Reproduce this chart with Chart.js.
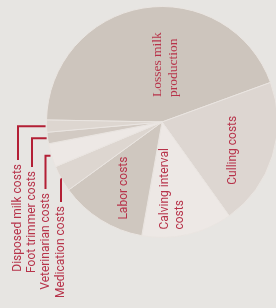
<!DOCTYPE html>
<html>
<head>
<meta charset="utf-8">
<script src="https://cdn.jsdelivr.net/npm/chart.js@4/dist/chart.umd.min.js"></script>
<style>
  html, body { margin: 0; padding: 0; width: 276px; height: 308px; overflow: hidden; background: #e7e5e2; }
  #wrap { position: absolute; left: 0; top: 0; width: 300px; height: 308px; }
</style>
</head>
<body>
<div id="wrap"><canvas id="c" width="300" height="308"></canvas></div>
<script>
// ---- data ----
const categories = [
  'Losses milk production',
  'Culling costs',
  'Calving interval costs',
  'Labor costs',
  'Medication costs',
  'Veterinarian costs',
  'Foot trimmer costs',
  'Disposed milk costs'
];
const values = [44.2, 20.7, 12.7, 12.2, 3.7, 3.3, 1.6, 1.7];
// lines of each label (in-slice labels may wrap)
const labelLines = [
  ['Losses milk', 'production'],
  ['Culling costs'],
  ['Calving interval', 'costs'],
  ['Labor costs'],
  ['Medication costs'],
  ['Veterinarian costs'],
  ['Foot trimmer costs'],
  ['Disposed milk costs']
];

// ---- style / layout ----
const sliceColors = ['#cdc5bd', '#ddd6d1', '#ede8e5', '#cfc7bf', '#ddd6d0', '#ede8e5', '#d2cac3', '#ddd6d0'];
const textColor = '#b7334a';
const leaderColor = '#b31f35';
// inside labels: anchor (bottom of rotated text) as fractions of radius from centre
const insideAnchor = { 0: [-0.043, -0.216, 16, 'serif'], 1: [0.612, 0.543, 15, 'sans'], 2: [0.026, 0.931, 15, 'sans'], 3: [-0.328, 0.845, 15, 'sans'] };
// outside labels: column x of label, y of text top
const outsideLabel = { 7: [18, 164], 6: [32, 171], 5: [45.5, 193], 4: [61, 206] };

const labelPlugin = {
  id: 'labels',
  afterDraw(chart) {
    const ctx = chart.ctx;
    const meta = chart.getDatasetMeta(0);
    ctx.save();
    ctx.fillStyle = textColor;
    meta.data.forEach((arc, i) => {
      const p = arc.getProps(['x', 'y', 'startAngle', 'endAngle', 'outerRadius'], true);
      const R = p.outerRadius;
      if (insideAnchor[i]) {
        const [fx, fy, lh, fam] = insideAnchor[i];
        ctx.font = fam === 'serif' ? '13.5px "Liberation Serif", serif' : '12px Roboto, sans-serif';
        ctx.save();
        ctx.translate(p.x + fx * R, p.y + fy * R);
        ctx.rotate(-Math.PI / 2);
        ctx.textAlign = 'left';
        ctx.textBaseline = 'middle';
        labelLines[i].forEach((ln, k) => ctx.fillText(ln, 0, k * lh));
        ctx.restore();
      } else if (outsideLabel[i]) {
        const [lx, topY] = outsideLabel[i];
        const mid = (p.startAngle + p.endAngle) / 2;
        const ex = p.x + Math.cos(mid) * (R + 1);
        const ey = p.y + Math.sin(mid) * (R + 1);
        ctx.strokeStyle = leaderColor;
        ctx.lineWidth = 2;
        ctx.beginPath();
        ctx.moveTo(ex, ey);
        ctx.lineTo(lx, ey);
        ctx.lineTo(lx, topY - 4);
        ctx.stroke();
        ctx.font = '12px Roboto, sans-serif';
        ctx.save();
        ctx.translate(lx, topY);
        ctx.rotate(-Math.PI / 2);
        ctx.textAlign = 'right';
        ctx.textBaseline = 'middle';
        ctx.fillText(labelLines[i][0], 0, 0);
        ctx.restore();
      }
    });
    ctx.restore();
  }
};

new Chart(document.getElementById('c'), {
  type: 'pie',
  data: {
    labels: categories,
    datasets: [{
      data: values,
      backgroundColor: sliceColors,
      borderColor: '#e9e4e0',
      borderWidth: 1
    }]
  },
  options: {
    responsive: false,
    animation: false,
    rotation: 271,
    layout: { padding: { left: 46, top: 6, right: 22, bottom: 70 } },
    plugins: { legend: { display: false }, tooltip: { enabled: false } }
  },
  plugins: [labelPlugin]
});
</script>
</body>
</html>
